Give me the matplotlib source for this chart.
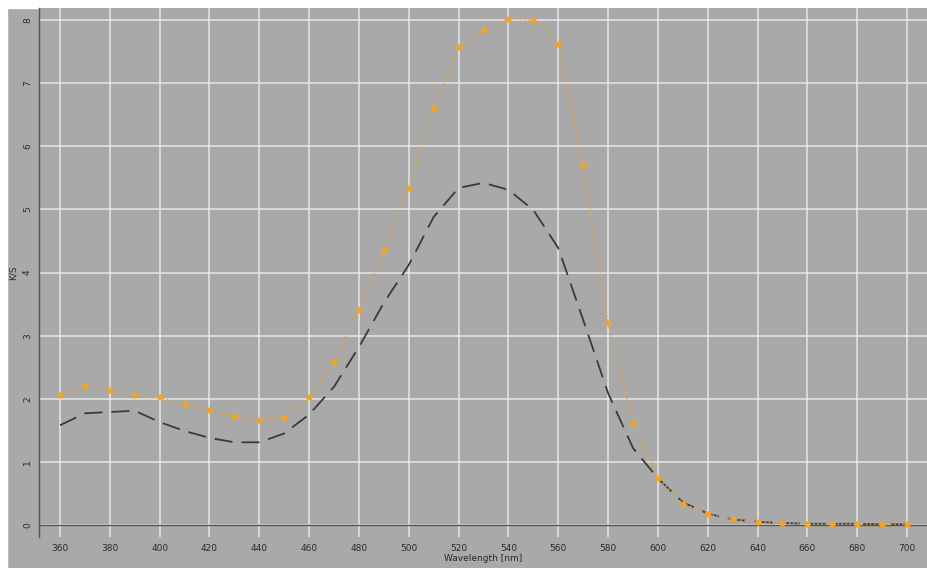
import numpy as np
import matplotlib
matplotlib.use("Agg")
import matplotlib.pyplot as plt
from matplotlib.patches import Rectangle

# wavelengths [nm] and K/S values
wavelength = np.arange(360, 701, 10)
ks_sample = [2.06, 2.20, 2.14, 2.06, 2.02, 1.92, 1.82, 1.72, 1.67, 1.70,
             2.02, 2.58, 3.41, 4.36, 5.34, 6.61, 7.57, 7.84, 8.02, 8.00,
             7.62, 5.70, 3.20, 1.61, 0.75, 0.34, 0.18, 0.09, 0.05, 0.03,
             0.02, 0.02, 0.02, 0.01, 0.01]
ks_reference = [1.58, 1.77, 1.79, 1.81, 1.63, 1.49, 1.38, 1.31, 1.31, 1.45,
                1.75, 2.19, 2.82, 3.52, 4.12, 4.88, 5.34, 5.42, 5.31, 4.99,
                4.39, 3.25, 2.09, 1.22, 0.74, 0.36, 0.18, 0.09, 0.05, 0.03,
                0.02, 0.02, 0.02, 0.01, 0.01]
xticks = np.arange(360, 701, 20)
yticks = np.arange(0, 9, 1)

bg = "#a9a9a9"
fig = plt.figure(figsize=(9.28, 5.68), dpi=100, facecolor=bg)
# white border at top and left
fig.patches.append(Rectangle((0, 1 - 8 / 568), 1, 8 / 568, transform=fig.transFigure,
                             color="white", zorder=-1))
fig.patches.append(Rectangle((0, 0), 7 / 928, 1, transform=fig.transFigure,
                             color="white", zorder=-1))

ax = fig.add_axes([39 / 928, 31 / 568, 1 - 39 / 928, (568 - 8 - 31) / 568])
ax.set_facecolor(bg)
ax.set_xlim(351.57, 708.43)
ax.set_ylim(-0.19, 8.19)
ax.set_xticks(xticks)
ax.set_yticks(yticks)
ax.grid(True, color="#ededed", linewidth=1.1, alpha=0.9)
ax.set_axisbelow(True)
for s in ["top", "right", "bottom"]:
    ax.spines[s].set_visible(False)
ax.spines["left"].set_color("#555555")
ax.spines["left"].set_linewidth(1.0)
ax.axhline(0, color="#555555", linewidth=1.0, zorder=1.5)
ax.tick_params(length=0, labelsize=6.5, labelcolor="#2a2a2a", pad=5)
for lbl in ax.get_yticklabels():
    lbl.set_rotation(90)
    lbl.set_va("center")

ax.plot(wavelength, ks_reference, color="#3a3a3a", linewidth=1.3,
        dashes=(10, 5), zorder=3)
ax.plot(wavelength, ks_sample, color="#e9a53a", linewidth=1.1, linestyle=":",
        marker="o", markersize=4.5, markerfacecolor="#f0a428",
        markeredgewidth=0, zorder=4)

ax.set_xlabel("Wavelength [nm]", fontsize=6.5, color="#2a2a2a", labelpad=1)
ax.set_ylabel("K/S", fontsize=6.5, color="#2a2a2a", labelpad=4)

fig.savefig("out.png", dpi=100, facecolor=bg)
